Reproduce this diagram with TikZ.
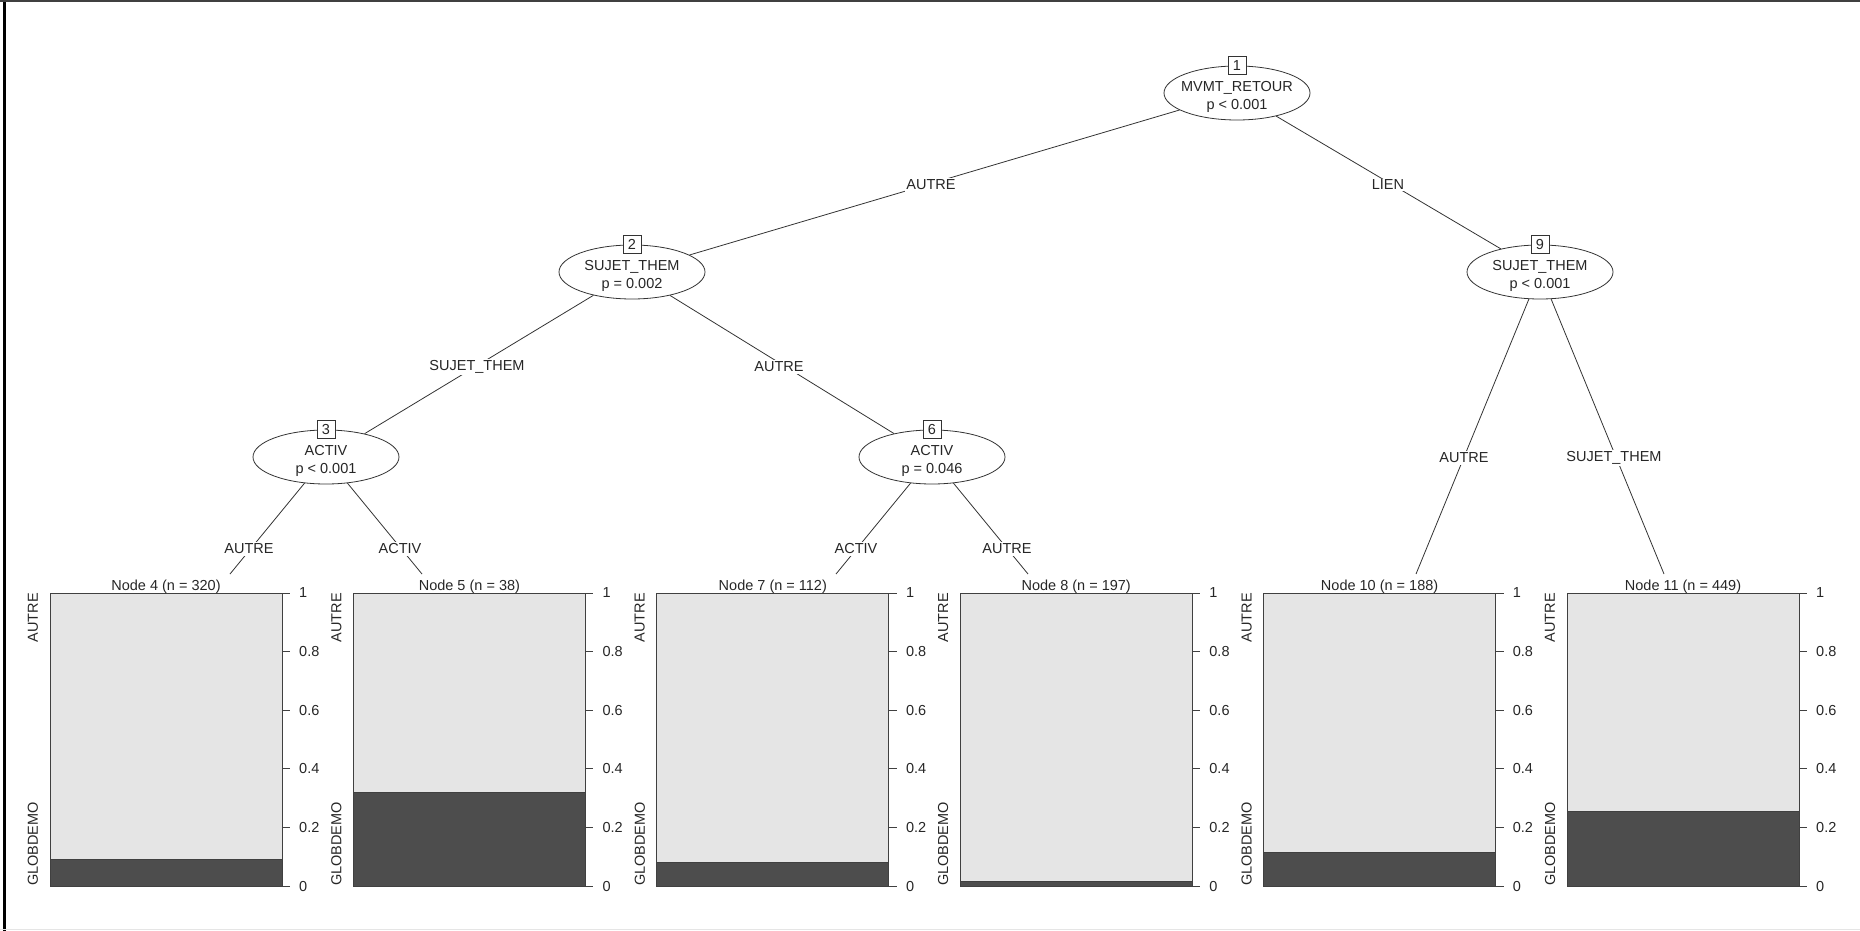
\documentclass[tikz,border=0pt]{standalone}
\usepackage{fontspec}
\setmainfont{Liberation Sans}
\usetikzlibrary{shapes.geometric}
\definecolor{lightbar}{HTML}{E5E5E5}
\definecolor{darkbar}{HTML}{4D4D4D}
\begin{document}
\begin{tikzpicture}[x=1pt,y=-1pt,
  every node/.style={font=\fontsize{14.5}{18}\selectfont, text=black!85},
  edge/.style={draw=black!80, line width=0.8pt},
  inner/.style={ellipse, draw=black!80, line width=0.8pt, minimum width=146pt, minimum height=54pt, inner sep=0pt},
  intext/.style={align=center, inner sep=0pt},
  numbox/.style={draw=black!80, fill=white, line width=0.8pt, minimum size=18pt, inner sep=0pt},
  elab/.style={fill=white, inner sep=1.5pt},
  ttl/.style={inner sep=0pt},
  ticklab/.style={anchor=west, inner sep=0pt},
  ylab/.style={rotate=90, inner sep=0pt},
  panel/.style={draw=black!75, line width=0.8pt},
  axis/.style={draw=black!75, line width=0.8pt}
]
\useasboundingbox (0,0) rectangle (1860,931);
% frame
\fill[black] (3,0) rectangle (6,931);
\fill[black!75] (0,0) rectangle (1860,2);
\draw[black!10, line width=1pt] (0,929) -- (1860,929);

% inner nodes
\node[inner] (n1) at (1237,93) {};
\node[inner] (n2) at (632,272) {};
\node[inner] (n9) at (1540,272) {};
\node[inner] (n3) at (326,457) {};
\node[inner] (n6) at (932,457) {};
\node[intext] (x1) at ([yshift=-4pt]n1.center) {MVMT\_RETOUR\\p < 0.001};
\node[intext] (x2) at ([yshift=-4pt]n2.center) {SUJET\_THEM\\p = 0.002};
\node[intext] (x9) at ([yshift=-4pt]n9.center) {SUJET\_THEM\\p < 0.001};
\node[intext] (x3) at ([yshift=-4pt]n3.center) {ACTIV\\p < 0.001};
\node[intext] (x6) at ([yshift=-4pt]n6.center) {ACTIV\\p = 0.046};

% terminal connection points
\coordinate (e4) at (230,574);
\coordinate (e5) at (422,574);
\coordinate (e7) at (836,574);
\coordinate (e8) at (1028,574);
\coordinate (e10) at (1416,574);
\coordinate (e11) at (1664,574);

% edges
\draw[edge] (n1) -- (n2);
\draw[edge] (n1) -- (n9);
\draw[edge] (n2) -- (n3);
\draw[edge] (n2) -- (n6);
\draw[edge] (n3) -- (e4);
\draw[edge] (n3) -- (e5);
\draw[edge] (n6) -- (e7);
\draw[edge] (n6) -- (e8);
\draw[edge] (n9) -- (e10);
\draw[edge] (n9) -- (e11);

% number boxes
\node[numbox] (b1) at (n1.north) {1};
\node[numbox] (b2) at (n2.north) {2};
\node[numbox] (b9) at (n9.north) {9};
\node[numbox] (b3) at (n3.north) {3};
\node[numbox] (b6) at (n6.north) {6};

% edge labels
\node[elab] (l12) at (931,185) {AUTRE};
\node[elab] (l19) at (1388,185) {LIEN};
\node[elab] (l23) at (477,367) {SUJET\_THEM};
\node[elab] (l26) at (779,367) {AUTRE};
\node[elab] (l910) at (1464,458) {AUTRE};
\node[elab] (l911) at (1614,458) {SUJET\_THEM};
\node[elab] (l34) at (249,549) {AUTRE};
\node[elab] (l35) at (400,549) {ACTIV};
\node[elab] (l67) at (856,549) {ACTIV};
\node[elab] (l68) at (1007,549) {AUTRE};

% terminal panels
\foreach \id/\L/\p/\n in {4/50/0.092/320, 5/353.4/0.32/38, 7/656.8/0.08/112, 8/960.2/0.016/197, 10/1263.6/0.113/188, 11/1567/0.256/449} {
  \pgfmathsetmacro{\R}{\L+232}
  \pgfmathsetmacro{\B}{886-293*\p}
  \fill[lightbar] (\L,593) rectangle (\R,886);
  \fill[darkbar] (\L,\B) rectangle (\R,886);
  \draw[panel] (\L,593) rectangle (\R,886);
  \draw[panel] (\L,\B) -- (\R,\B);
  \node[ttl, anchor=base] (t\id) at (\L+116,590) {Node \id\ (n = \n)};
  \draw[axis] (\R,593) -- (\R,886);
  \foreach \v/\lab in {0/0, 0.2/0.2, 0.4/0.4, 0.6/0.6, 0.8/0.8, 1/1} {
    \pgfmathsetmacro{\Y}{886-293*\v}
    \draw[axis] (\R,\Y) -- (\R+8,\Y);
    \node[ticklab] at (\R+17,\Y) {\lab};
  }
  \node[ylab, anchor=east] (a\id) at (\L-17,593) {AUTRE};
  \node[ylab, anchor=west] (g\id) at (\L-17,886) {GLOBDEMO};
}
\end{tikzpicture}
\end{document}
